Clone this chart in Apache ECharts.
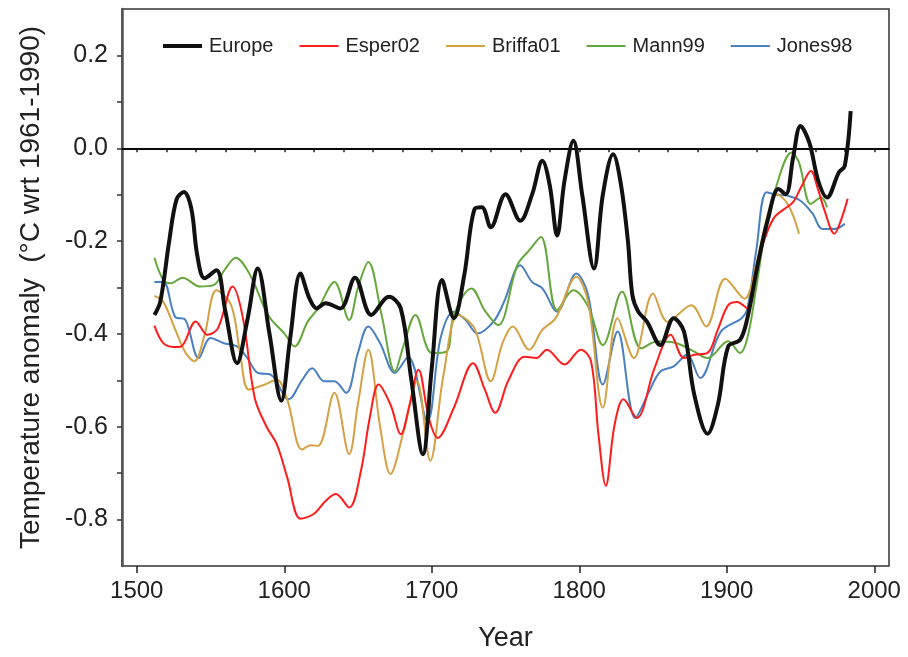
<!DOCTYPE html>
<html>
<head>
<meta charset="utf-8">
<script src="https://cdn.jsdelivr.net/npm/echarts@6/dist/echarts.min.js"></script>
<style>
html,body{margin:0;padding:0;background:#fff;}
#c{width:908px;height:657px;}
</style>
</head>
<body>
<div id="c"></div>
<script>
// ---- data ----
const seriesNames = ["Europe", "Esper02", "Briffa01", "Mann99", "Jones98"];

const europeYears = [1512,1516,1522,1527,1532,1537,1541,1546,1554,1560,1568,1575,1582,1590,1598,1604,1611,1617,1622,1628,1638,1648,1659,1671,1679,1686,1694,1700,1707,1715,1722,1729,1734,1740,1750,1760,1768,1775,1780,1785,1790,1796,1802,1810,1816,1823,1828,1833,1836,1840,1846,1855,1864,1871,1878,1887,1894,1901,1909,1914,1921,1928,1935,1940,1945,1950,1956,1962,1968,1976,1980,1984];
const europeVals  = [-0.359,-0.33,-0.2,-0.11,-0.094,-0.13,-0.23,-0.28,-0.263,-0.35,-0.463,-0.37,-0.259,-0.4,-0.544,-0.41,-0.27,-0.323,-0.345,-0.334,-0.345,-0.279,-0.359,-0.32,-0.345,-0.495,-0.659,-0.474,-0.284,-0.366,-0.274,-0.131,-0.127,-0.17,-0.099,-0.156,-0.1,-0.027,-0.08,-0.188,-0.07,0.016,-0.1,-0.259,-0.1,-0.013,-0.073,-0.2,-0.316,-0.352,-0.374,-0.424,-0.366,-0.395,-0.531,-0.615,-0.552,-0.427,-0.413,-0.366,-0.25,-0.152,-0.088,-0.099,-0.02,0.048,0.012,-0.07,-0.106,-0.052,-0.038,0.08];

const esperYears = [1512,1518,1525,1530,1540,1548,1555,1565,1572,1580,1588,1595,1602,1611,1620,1628,1635,1644,1652,1658,1664,1672,1679,1685,1691,1698,1704,1715,1728,1736,1743,1752,1763,1771,1778,1790,1801,1808,1813,1818,1824,1830,1839,1851,1862,1871,1878,1887,1894,1901,1907,1914,1920,1925,1932,1939,1945,1951,1957,1962,1966,1973,1977,1982];
const esperVals  = [-0.382,-0.42,-0.428,-0.427,-0.373,-0.402,-0.388,-0.298,-0.366,-0.538,-0.6,-0.638,-0.709,-0.798,-0.788,-0.76,-0.745,-0.774,-0.695,-0.58,-0.509,-0.552,-0.616,-0.552,-0.477,-0.581,-0.624,-0.559,-0.463,-0.52,-0.57,-0.5,-0.449,-0.452,-0.434,-0.466,-0.434,-0.459,-0.616,-0.727,-0.595,-0.541,-0.581,-0.474,-0.402,-0.452,-0.445,-0.441,-0.39,-0.338,-0.331,-0.345,-0.27,-0.202,-0.15,-0.131,-0.116,-0.08,-0.049,-0.09,-0.131,-0.184,-0.159,-0.109];

const briffaYears = [1512,1518,1526,1533,1539,1546,1554,1564,1570,1576,1586,1595,1602,1612,1618,1623,1634,1644,1650,1657,1665,1672,1681,1690,1699,1708,1718,1729,1740,1748,1755,1766,1775,1784,1798,1806,1816,1826,1837,1850,1860,1876,1886,1899,1912,1920,1928,1934,1942,1949];
const briffaVals  = [-0.318,-0.331,-0.39,-0.44,-0.459,-0.402,-0.306,-0.338,-0.44,-0.52,-0.51,-0.499,-0.541,-0.649,-0.64,-0.641,-0.527,-0.659,-0.55,-0.434,-0.6,-0.702,-0.609,-0.502,-0.673,-0.488,-0.359,-0.388,-0.502,-0.42,-0.384,-0.434,-0.391,-0.366,-0.277,-0.331,-0.559,-0.366,-0.452,-0.313,-0.374,-0.338,-0.384,-0.281,-0.324,-0.25,-0.14,-0.099,-0.124,-0.184];

const mannYears = [1512,1518,1523,1531,1543,1552,1560,1567,1577,1589,1600,1607,1616,1623,1634,1644,1650,1657,1666,1675,1681,1689,1700,1710,1715,1727,1736,1745,1758,1766,1774,1785,1796,1806,1816,1829,1842,1853,1866,1878,1887,1901,1909,1914,1920,1926,1933,1944,1949,1957,1964,1968];
const mannVals  = [-0.236,-0.284,-0.291,-0.279,-0.298,-0.295,-0.26,-0.236,-0.274,-0.359,-0.399,-0.427,-0.373,-0.345,-0.288,-0.37,-0.3,-0.245,-0.359,-0.481,-0.424,-0.359,-0.441,-0.438,-0.359,-0.302,-0.35,-0.381,-0.252,-0.22,-0.191,-0.349,-0.306,-0.341,-0.424,-0.309,-0.431,-0.416,-0.42,-0.438,-0.452,-0.416,-0.441,-0.409,-0.3,-0.18,-0.088,-0.009,-0.031,-0.12,-0.106,-0.127];

const jonesYears = [1512,1518,1526,1533,1542,1550,1559,1568,1575,1582,1591,1603,1612,1619,1627,1634,1642,1650,1657,1665,1675,1684,1697,1706,1715,1723,1731,1742,1749,1760,1768,1775,1785,1798,1806,1816,1826,1838,1848,1855,1864,1873,1882,1896,1910,1914,1920,1927,1934,1941,1950,1958,1965,1973,1980];
const jonesVals  = [-0.288,-0.288,-0.363,-0.37,-0.452,-0.409,-0.42,-0.427,-0.452,-0.484,-0.488,-0.541,-0.5,-0.474,-0.502,-0.502,-0.527,-0.44,-0.384,-0.42,-0.484,-0.449,-0.588,-0.409,-0.352,-0.37,-0.399,-0.373,-0.331,-0.252,-0.288,-0.302,-0.352,-0.27,-0.316,-0.509,-0.395,-0.581,-0.52,-0.481,-0.47,-0.445,-0.495,-0.395,-0.366,-0.345,-0.22,-0.095,-0.1,-0.102,-0.113,-0.14,-0.174,-0.174,-0.163];

const xLabelValues = [1500,1600,1700,1800,1900,2000];
const xTickValues = [1500,1520,1540,1560,1580,1600,1620,1640,1660,1680,1700,1720,1740,1760,1780,1800,1820,1840,1860,1880,1900,1920,1940,1960,1980,2000];
const yLabelValues = [-0.8,-0.6,-0.4,-0.2,0.0,0.2];
const yTickValues = [-0.8,-0.7,-0.6,-0.5,-0.4,-0.3,-0.2,-0.1,0.0,0.1,0.2];

// ---- chart ----
const zip = (xs, ys) => xs.map((x, i) => [x, ys[i]]);
const colors = ["#111111", "#ff1c1c", "#d4a245", "#66a83d", "#4a80bf"];
const widths = [4, 2, 2, 2, 2];
const allData = [
  zip(europeYears, europeVals),
  zip(esperYears, esperVals),
  zip(briffaYears, briffaVals),
  zip(mannYears, mannVals),
  zip(jonesYears, jonesVals)
];
const FONT = "Liberation Sans, Arial, sans-serif";

const series = [];
const order = [4, 3, 2, 1, 0];
order.forEach(i => {
  series.push({
    name: seriesNames[i],
    type: "line",
    data: allData[i],
    smooth: 0.35,
    symbol: "none",
    z: i === 0 ? 5 : 3,
    lineStyle: { color: colors[i], width: widths[i] },
    itemStyle: { color: colors[i] },
    markLine: i === 0 ? {
      silent: true,
      symbol: "none",
      label: { show: false },
      lineStyle: { color: "#000", width: 1.5, type: "solid" },
      data: [{ yAxis: 0 }]
    } : undefined
  });
});

const legendData = seriesNames.map((n, i) => ({
  name: n,
  icon: i === 0 ? "path://M0 0H39V4H0Z" : "path://M0 0H39V2.2H0Z"
}));

const chart = echarts.init(document.getElementById("c"), null, { renderer: "canvas" });
chart.setOption({
  animation: false,
  backgroundColor: "#ffffff",
  grid: { left: 122, right: 19, top: 9, bottom: 88, show: true, borderColor: "#333", borderWidth: 1.5, containLabel: false },
  legend: {
    data: legendData,
    left: 158, top: 31,
    itemWidth: 39, itemHeight: 14, itemGap: 26,
    symbolKeepAspect: true,
    textStyle: { fontFamily: FONT, fontSize: 20, color: "#222", padding: [0, 0, 0, 2] }
  },
  xAxis: [{
    type: "value", min: 1490, max: 2010,
    name: "Year", nameLocation: "middle", nameGap: 59,
    nameTextStyle: { fontFamily: FONT, fontSize: 27, color: "#222" },
    axisLine: { show: true, lineStyle: { color: "#222", width: 2 } },
    axisTick: { show: true, length: 4, customValues: xTickValues, lineStyle: { color: "#222", width: 1.5 } },
    axisLabel: { customValues: xLabelValues, formatter: v => String(Math.round(v)), fontFamily: FONT, fontSize: 24, color: "#222", margin: 13 },
    splitLine: { show: false }
  }, {
    type: "value", min: 1490, max: 2010, position: "bottom",
    axisLine: { show: false },
    axisTick: { show: true, length: 7, customValues: xLabelValues, lineStyle: { color: "#222", width: 1.5 } },
    axisLabel: { show: false },
    splitLine: { show: false }
  }],
  yAxis: {
    type: "value", min: -0.9, max: 0.3,
    name: "Temperature anomaly  (°C wrt 1961-1990)", nameLocation: "middle", nameGap: 77,
    nameTextStyle: { fontFamily: FONT, fontSize: 28, color: "#222" },
    axisLine: { show: true, lineStyle: { color: "#555", width: 2.5 } },
    axisTick: { show: true, length: 5, customValues: yTickValues, lineStyle: { color: "#333", width: 1.5 } },
    axisLabel: { customValues: yLabelValues, formatter: v => Number(v).toFixed(1), fontFamily: FONT, fontSize: 25, color: "#222", margin: 14 },
    splitLine: { show: false }
  },
  series: series
});
</script>
</body>
</html>
